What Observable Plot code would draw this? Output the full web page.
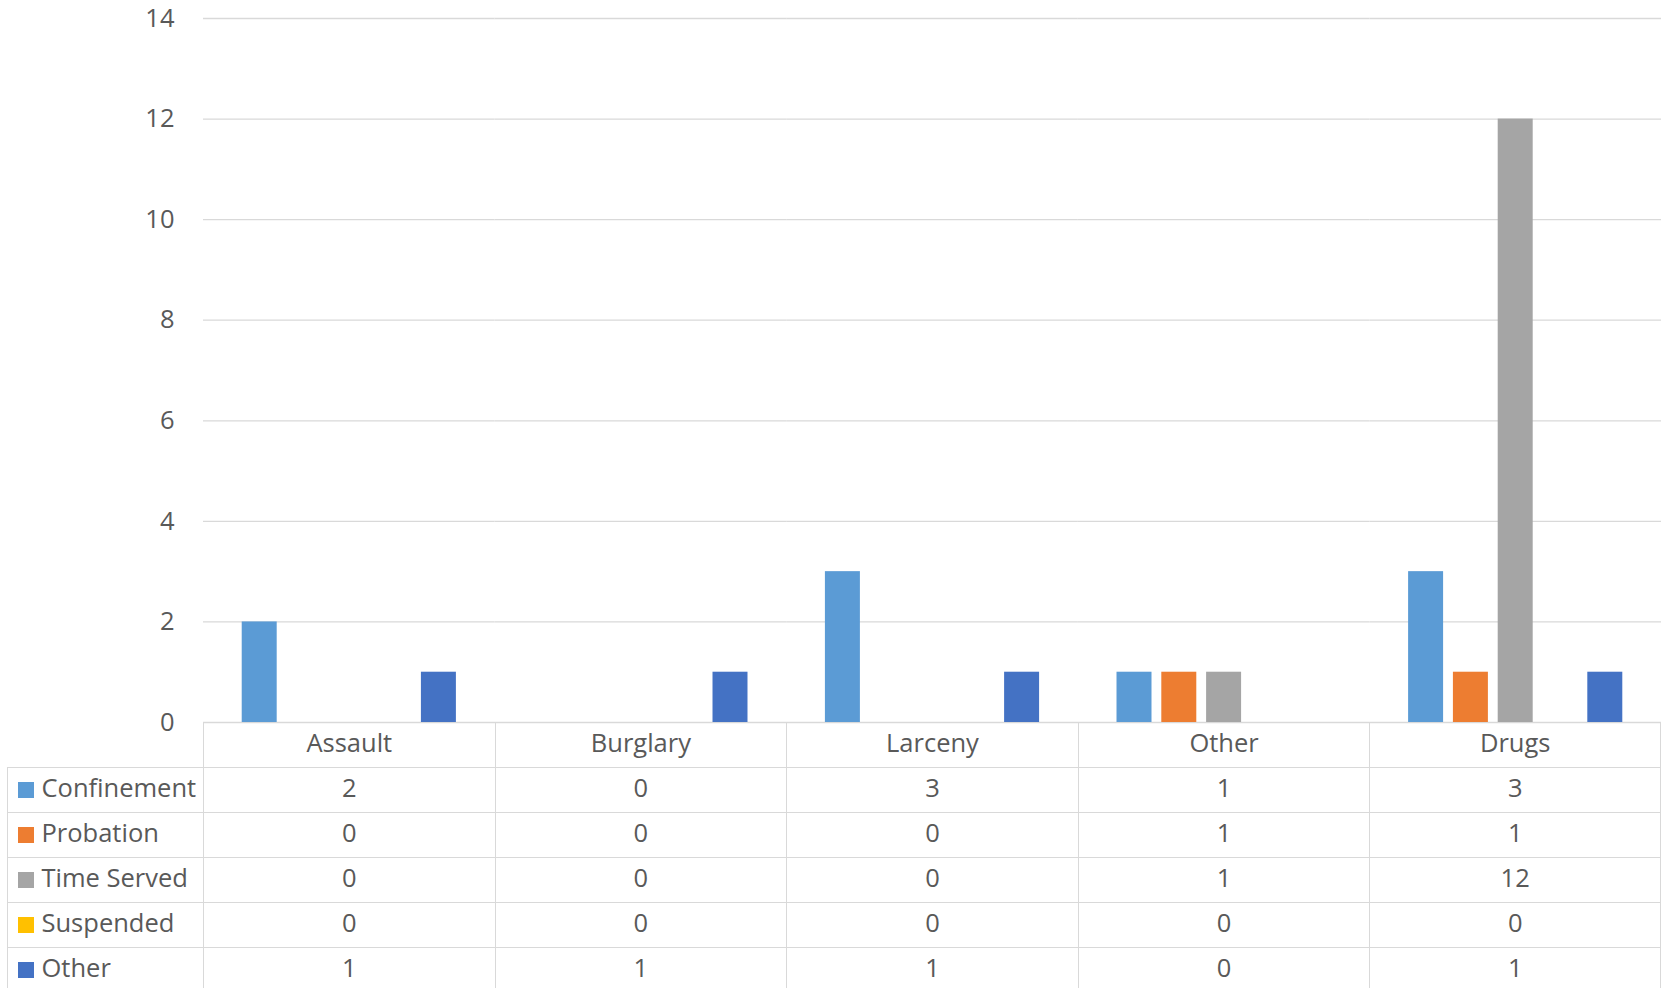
<!DOCTYPE html>
<html>
<head>
<meta charset="utf-8">
<script src="https://cdn.jsdelivr.net/npm/d3@7"></script>
<script src="https://cdn.jsdelivr.net/npm/@observablehq/plot@0.6"></script>
<style>
  html, body { margin: 0; padding: 0; background: #fff; }
  #wrap { position: relative; width: 1665px; height: 988px; overflow: hidden; font-family: "Open Sans", sans-serif; color: #595959; }
  #chart { position: absolute; left: 0; top: 0; }
  #table { position: absolute; left: 7px; top: 722px; display: grid;
           grid-template-columns: 196px repeat(5, 291.6px);
           grid-template-rows: 45.4px repeat(5, 45px); }
  .cell { box-sizing: border-box; border-left: 1.3px solid #d9d9d9; border-top: 1.3px solid #d9d9d9;
          display: flex; align-items: center; justify-content: center; font-size: 25.5px; white-space: nowrap;
          padding-bottom: 6px; }
  .cell.last { border-right: 1.3px solid #d9d9d9; }
  .cell.blank { border: none; }
  .cell.label { justify-content: flex-start; padding-left: 9.5px; }
  .sw { width: 16px; height: 16px; margin-right: 8px; flex: none; position: relative; top: 3px; }
</style>
</head>
<body>
<div id="wrap">
  <div id="chart"></div>
  <div id="table"></div>
</div>
<script>
const categories = ["Assault", "Burglary", "Larceny", "Other", "Drugs"];
const series = ["Confinement", "Probation", "Time Served", "Suspended", "Other"];
const colors = ["#5B9BD5", "#ED7D31", "#A5A5A5", "#FFC000", "#4472C4"];
const confinement = [2, 0, 3, 1, 3];
const probation = [0, 0, 0, 1, 1];
const timeServed = [0, 0, 0, 1, 12];
const suspended = [0, 0, 0, 0, 0];
const other = [1, 1, 1, 0, 1];
const yTicks = [0, 2, 4, 6, 8, 10, 12, 14];

const seriesValues = [confinement, probation, timeServed, suspended, other];
const rows = [];
series.forEach((s, si) => {
  categories.forEach((c, ci) => {
    rows.push({category: c, series: s, value: seriesValues[si][ci]});
  });
});

const chart = Plot.plot({
  width: 1665,
  height: 760,
  marginTop: 18,
  marginBottom: 38,
  marginLeft: 203,
  marginRight: 4,
  style: {fontFamily: "Open Sans, sans-serif", fontSize: "25.5px", color: "#595959", background: "transparent", overflow: "visible"},
  fx: {domain: categories, padding: 0, axis: null, round: false},
  x: {domain: series, paddingInner: 0.219, paddingOuter: 0.864, axis: null, round: false},
  y: {domain: [0, 14], axis: null},
  color: {domain: series, range: colors},
  marks: [
    Plot.ruleY(yTicks, {stroke: "#d9d9d9", strokeWidth: 1.3}),
    Plot.barY(rows, {fx: "category", x: "series", y: "value", fill: "series"}),
    Plot.axisY({ticks: yTicks, tickSize: 0, tickPadding: 29, label: null, fill: "#595959"})
  ]
});
document.getElementById("chart").appendChild(chart);

// data table
const table = document.getElementById("table");
function cell(cls, html) {
  const d = document.createElement("div");
  d.className = "cell " + cls;
  d.innerHTML = html;
  table.appendChild(d);
  return d;
}
cell("blank", "");
categories.forEach((c, i) => cell(i === categories.length - 1 ? "last" : "", c));
series.forEach((s, si) => {
  const lab = cell("label", "");
  const sw = document.createElement("span");
  sw.className = "sw";
  sw.style.background = colors[si];
  lab.appendChild(sw);
  lab.appendChild(document.createTextNode(s));
  categories.forEach((c, ci) => cell(ci === categories.length - 1 ? "last" : "", String(seriesValues[si][ci])));
});
</script>
</body>
</html>
